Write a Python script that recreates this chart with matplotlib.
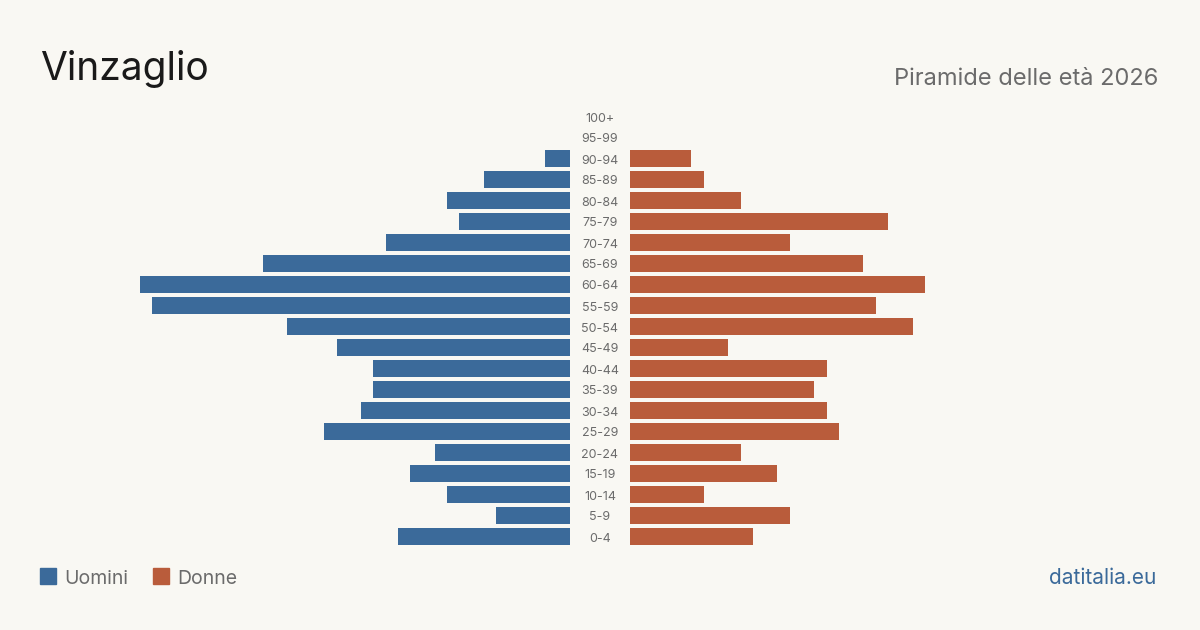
import matplotlib
matplotlib.use("Agg")
import matplotlib.pyplot as plt
from matplotlib.patches import Rectangle

ages = ["0-4", "5-9", "10-14", "15-19", "20-24", "25-29", "30-34", "35-39", "40-44",
        "45-49", "50-54", "55-59", "60-64", "65-69", "70-74", "75-79", "80-84",
        "85-89", "90-94", "95-99", "100+"]
uomini = [14, 6, 10, 13, 11, 20, 17, 16, 16, 19, 23, 34, 35, 25, 15, 9, 10, 7, 2, 0, 0]
donne = [10, 13, 6, 12, 9, 17, 16, 15, 16, 8, 23, 20, 24, 19, 13, 21, 9, 6, 5, 0, 0]

BG = "#f9f8f3"
BLUE = "#3b6a9a"
ORANGE = "#b95c3b"
GRAY = "#6b6b6b"
FONT = ["Inter", "DejaVu Sans"]
plt.rcParams["font.family"] = FONT

W, H = 1200, 630
fig = plt.figure(figsize=(12, 6.3), dpi=100, facecolor=BG)

xmax = 35
bottom = (630 - 547) / H
height = 441 / H
axL = fig.add_axes([140 / W, bottom, 430 / W, height])
axR = fig.add_axes([630 / W, bottom, 430 / W, height])

y = list(range(len(ages)))
axL.barh(y, uomini, height=0.8, color=BLUE)
axR.barh(y, donne, height=0.8, color=ORANGE)
axL.set_xlim(xmax, 0)
axR.set_xlim(0, xmax)
for ax in (axL, axR):
    ax.set_ylim(-0.5, len(ages) - 0.5)
    ax.axis("off")
    ax.set_facecolor("none")

# age labels in the middle
for i, a in enumerate(ages):
    fig.text(600 / W, (630 - (537 - 21 * i)) / H, a, ha="center", va="center_baseline",
             fontsize=9, color=GRAY)

fig.text(40 / W, (630 - 80) / H, "Vinzaglio", fontsize=28, color="#1a1a1a",
         ha="left", va="baseline")
fig.text(1158 / W, (630 - 85) / H, "Piramide delle età 2026", fontsize=17,
         color=GRAY, ha="right", va="baseline")

# legend
fig.patches.append(Rectangle((40 / W, (630 - 584) / H), 16 / W, 16 / H,
                             transform=fig.transFigure, color=BLUE))
fig.text(64 / W, (630 - 583.5) / H, "Uomini", fontsize=14, color=GRAY,
         ha="left", va="baseline")
fig.patches.append(Rectangle((153 / W, (630 - 584) / H), 16 / W, 16 / H,
                             transform=fig.transFigure, color=ORANGE))
fig.text(177 / W, (630 - 583.5) / H, "Donne", fontsize=14, color=GRAY,
         ha="left", va="baseline")

fig.text(1156 / W, (630 - 583.5) / H, "datitalia.eu", fontsize=15, color=BLUE,
         ha="right", va="baseline")

fig.savefig("out.png", dpi=100, facecolor=BG)
